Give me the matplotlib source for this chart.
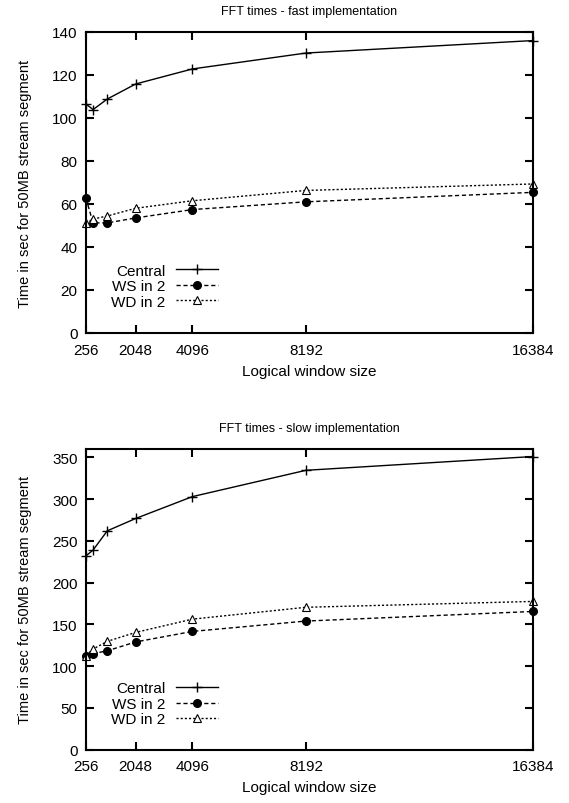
import matplotlib
matplotlib.use('Agg')
import matplotlib.pyplot as plt

plt.rcParams['font.family'] = ['Liberation Sans', 'DejaVu Sans']
plt.rcParams['font.size'] = 11

# Logical window sizes
window = [256, 512, 1024, 2048, 4096, 8192, 16384]
xticks = [256, 2048, 4096, 8192, 16384]

# FFT times - fast implementation
fast_central = [106.5, 103.9, 108.8, 115.8, 122.8, 130.2, 136.0]
fast_ws = [62.6, 51.2, 51.2, 53.5, 57.4, 61.0, 65.4]
fast_wd = [51.0, 53.0, 54.4, 58.0, 61.5, 66.3, 69.3]

# FFT times - slow implementation
slow_central = [232, 239, 262, 276.8, 303, 334.5, 351]
slow_ws = [112.4, 115, 118.4, 129, 141.6, 154, 165.5]
slow_wd = [112.5, 120.5, 129.7, 140.4, 156.3, 170.5, 177.5]


def draw(ax, central, ws, wd, title, ymax, yticks, leg_y):
    ax.plot(window, central, color='black', lw=1, marker='+', ms=7,
            mew=1, label='Central', clip_on=False)
    ax.plot(window, ws, color='black', lw=1, dashes=(3, 2), marker='o',
            ms=5.5, label='WS in 2', clip_on=False)
    ax.plot(window, wd, color='black', lw=1, dashes=(1.5, 1.5), marker='^',
            ms=5.5, mfc='white', mew=0.8, label='WD in 2', clip_on=False)
    ax.set_xlim(256, 16384)
    ax.set_ylim(0, ymax)
    ax.set_xticks(xticks)
    ax.set_yticks(yticks)
    ax.tick_params(direction='in', length=6, width=1.5, top=True, right=True,
                   labelsize=11)
    ax.tick_params(axis='x', pad=7)
    ax.tick_params(axis='y', pad=6)
    for s in ax.spines.values():
        s.set_linewidth(1.5)
    ax.set_title(title, fontsize=9, pad=13)
    ax.set_xlabel('Logical window size', fontsize=11, labelpad=5)
    ax.set_ylabel('Time in sec for 50MB stream segment', fontsize=10.5)
    ax.yaxis.set_label_coords(-0.12, 0.5)
    ax.legend(loc='upper left', bbox_to_anchor=(0.057, leg_y), frameon=False,
              markerfirst=False, handlelength=2.8, handletextpad=0.65,
              labelspacing=0.1, fontsize=11, borderaxespad=0, borderpad=0)


fig = plt.figure(figsize=(5.69, 8.04), dpi=100)
ax1 = fig.add_axes([0.1511, 0.5846, 0.7856, 0.3744])
ax2 = fig.add_axes([0.1511, 0.0663, 0.7856, 0.3740])

draw(ax1, fast_central, fast_ws, fast_wd, 'FFT times - fast implementation',
     140, range(0, 141, 20), 0.23)
draw(ax2, slow_central, slow_ws, slow_wd, 'FFT times - slow implementation',
     360, range(0, 351, 50), 0.227)

fig.savefig('out.png', dpi=100)
